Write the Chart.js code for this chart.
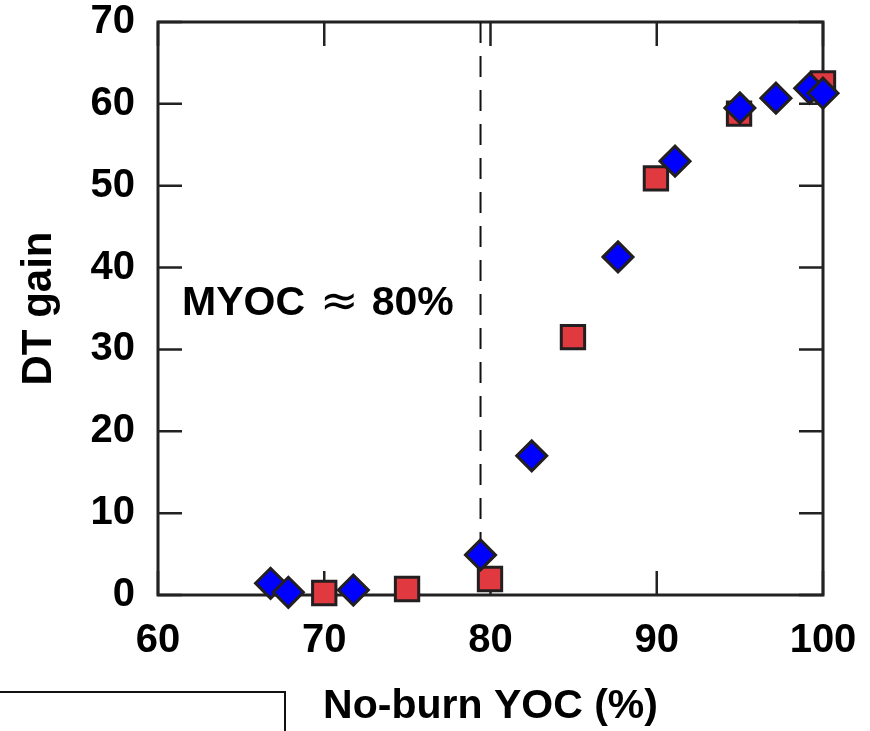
<!DOCTYPE html>
<html lang="en">
<head>
  <meta charset="UTF-8">
  <title>DT gain vs No-burn YOC</title>
  <script src="https://cdn.jsdelivr.net/npm/chart.js"></script>
  <style>
    body {
      margin: 0;
      overflow: hidden;
      background: #fff;
    }
    #chart-container {
      position: relative;
      width: 870px;
      height: 731px;
    }
    .legend-box {
      position: absolute;
      left: -6px;
      top: 691px;
      width: 288px;
      height: 100px;
      border: 2px solid #111;
    }
  </style>
</head>
<body>
  <div id="chart-container">
    <canvas id="gainChart"></canvas>
    <div class="legend-box"></div>
  </div>

  <script>
    // blue diamonds
    const diamondX = [66.77, 67.84, 71.75, 79.4, 82.48, 87.67, 91.1, 95.0, 97.17, 99.2, 100.0];
    const diamondY = [1.43, 0.33, 0.61, 4.9, 17.0, 41.3, 53.0, 59.5, 60.7, 61.9, 61.3];
    // red squares
    const squareX = [70.0, 74.98, 79.97, 84.96, 89.95, 94.95, 100.0];
    const squareY = [0.24, 0.73, 1.95, 31.5, 50.9, 58.8, 62.5];
    // dashed MYOC marker (drawn top -> bottom so the dash pattern starts at the top)
    const myocX = 79.4;
    const myocYRange = [70, 0];
    const xTicks = [60, 70, 80, 90, 100];
    const yTicks = [0, 10, 20, 30, 40, 50, 60, 70];
    // label anchor (data units)
    const noteX = 61.45;
    const noteY = 34.2;

    const FONT = '"Liberation Sans", Arial, Helvetica, sans-serif';
    const toPoints = (xs, ys) => xs.map((x, i) => ({ x: x, y: ys[i] }));

    // frame + inward ticks on all four sides, under the markers
    const framePlugin = {
      id: 'frame',
      beforeDatasetsDraw(chart) {
        const { ctx, chartArea: a, scales } = chart;
        const len = 24;
        ctx.save();
        ctx.strokeStyle = '#222';
        ctx.lineWidth = 3;
        ctx.strokeRect(a.left, a.top, a.right - a.left, a.bottom - a.top);
        ctx.lineWidth = 2.5;
        ctx.beginPath();
        xTicks.forEach(v => {
          const px = scales.x.getPixelForValue(v);
          ctx.moveTo(px, a.bottom); ctx.lineTo(px, a.bottom - len);
          ctx.moveTo(px, a.top); ctx.lineTo(px, a.top + len);
        });
        yTicks.forEach(v => {
          const py = scales.y.getPixelForValue(v);
          ctx.moveTo(a.left, py); ctx.lineTo(a.left + len, py);
          ctx.moveTo(a.right, py); ctx.lineTo(a.right - len, py);
        });
        ctx.stroke();
        ctx.restore();
      },
      afterDatasetsDraw(chart) {
        const { ctx, scales } = chart;
        let x = scales.x.getPixelForValue(noteX);
        const y = scales.y.getPixelForValue(noteY);
        ctx.save();
        ctx.fillStyle = '#000';
        ctx.textBaseline = 'alphabetic';
        ctx.font = 'bold 41px ' + FONT;
        ctx.fillText('MYOC', x, y);
        x += ctx.measureText('MYOC').width + 15;
        ctx.font = '46px "DejaVu Sans", sans-serif';
        ctx.fillText('\u2248', x, y + 1);
        x += ctx.measureText('\u2248').width + 13;
        ctx.font = 'bold 41px ' + FONT;
        ctx.fillText('80%', x, y);
        ctx.restore();
      }
    };

    const ctx = document.getElementById('gainChart').getContext('2d');
    new Chart(ctx, {
      type: 'scatter',
      data: {
        datasets: [
          {
            label: 'diamonds',
            data: toPoints(diamondX, diamondY),
            pointStyle: 'rectRot',
            pointRadius: 15,
            pointBackgroundColor: '#0000ff',
            pointBorderColor: '#231f20',
            pointBorderWidth: 3,
            clip: false,
            order: 0
          },
          {
            label: 'squares',
            data: toPoints(squareX, squareY),
            pointStyle: 'rect',
            pointRadius: 16.5,
            pointBackgroundColor: '#e0393f',
            pointBorderColor: '#231f20',
            pointBorderWidth: 3,
            clip: false,
            order: 1
          },
          {
            label: 'MYOC',
            data: myocYRange.map(y => ({ x: myocX, y: y })),
            showLine: true,
            borderColor: '#111',
            borderWidth: 2,
            borderDash: [21, 13],
            pointRadius: 0,
            order: 2
          }
        ]
      },
      options: {
        responsive: true,
        maintainAspectRatio: false,
        animation: false,
        layout: { padding: { top: 22, right: 47, left: 0, bottom: 0 } },
        plugins: {
          legend: { display: false },
          tooltip: { enabled: false }
        },
        scales: {
          x: {
            type: 'linear',
            min: 60,
            max: 100,
            afterFit: s => {
              s.height = 136;
              s.paddingLeft = 0;
              s.paddingRight = 0;
            },
            afterBuildTicks: s => { s.ticks = xTicks.map(v => ({ value: v })); },
            grid: { display: false, drawTicks: false },
            border: { display: false },
            ticks: {
              color: '#000',
              padding: 22,
              font: { family: FONT, size: 40, weight: 'bold' }
            },
            title: {
              display: true,
              text: 'No-burn YOC (%)',
              color: '#000',
              padding: { top: 0, bottom: 0 },
              font: { family: FONT, size: 41, weight: 'bold', lineHeight: 1.2 }
            }
          },
          y: {
            type: 'linear',
            min: 0,
            max: 70,
            afterFit: s => {
              s.width = 158;
              s.paddingTop = 0;
              s.paddingBottom = 0;
            },
            afterBuildTicks: s => { s.ticks = yTicks.map(v => ({ value: v })); },
            grid: { display: false, drawTicks: false },
            border: { display: false },
            ticks: {
              color: '#000',
              padding: 23,
              font: { family: FONT, size: 40, weight: 'bold' }
            },
            title: {
              display: true,
              text: 'DT gain',
              color: '#000',
              padding: { top: 14, bottom: 0 },
              font: { family: FONT, size: 42, weight: 'bold', lineHeight: 1.2 }
            }
          }
        }
      },
      plugins: [framePlugin]
    });
  </script>
</body>
</html>
